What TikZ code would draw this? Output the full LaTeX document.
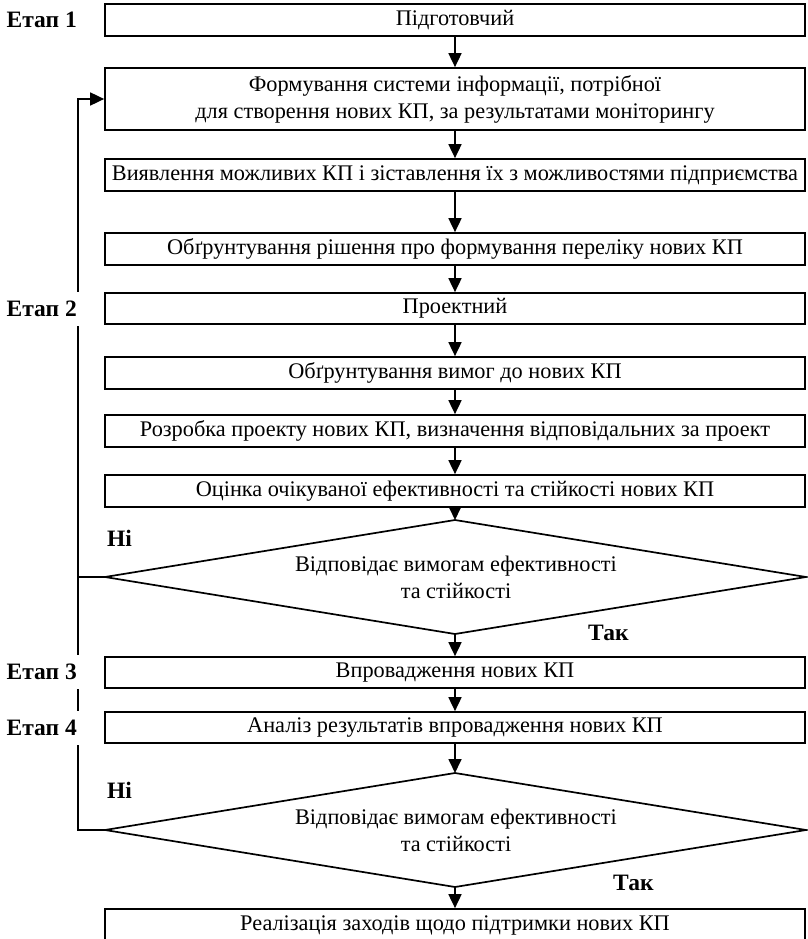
\documentclass[tikz,border=0pt]{standalone}
\usepackage{fontspec}
\setmainfont{Liberation Serif}
\usetikzlibrary{arrows.meta}
\begin{document}
\begin{tikzpicture}[x=1pt,y=-1pt,
  txt/.style={font=\fontsize{22.3}{27}\selectfont},
  box/.style={txt,draw,line width=1.7pt,minimum width=700pt,minimum height=32pt,inner sep=0pt,align=center},
  lbl/.style={font=\fontsize{23.5}{27}\selectfont\bfseries,inner sep=0pt},
  etap/.style={lbl,fill=white,anchor=east,inner ysep=9pt,inner xsep=4pt},
  conn/.style={line width=1.7pt},
  arr/.style={conn,-{Triangle[length=14pt,width=13pt]}},
  dia/.style={line width=1.7pt,line join=miter}
]
\useasboundingbox (0,0) rectangle (807,939);

% boxes
\node[box] (b1) at (455,20) {Підготовчий};
\node[box,minimum height=62pt] (b2) at (455,99) {Формування системи інформації, потрібної\\для створення нових КП, за результатами моніторингу};
\node[box] (b3) at (455,175) {Виявлення можливих КП і зіставлення їх з можливостями підприємства};
\node[box] (b4) at (455,249) {Обґрунтування рішення про формування переліку нових КП};
\node[box,minimum height=31pt] (b5) at (455,308.5) {Проектний};
\node[box] (b6) at (455,373) {Обґрунтування вимог до нових КП};
\node[box] (b7) at (455,431) {Розробка проекту нових КП, визначення відповідальних за проект};
\node[box] (b8) at (455,491) {Оцінка очікуваної ефективності та стійкості нових КП};
\node[box,minimum height=31pt] (b9) at (455,672.5) {Впровадження нових КП};
\node[box,minimum height=31pt] (b10) at (455,727.5) {Аналіз результатів впровадження нових КП};
\node[box] (b11) at (455,925) {Реалізація заходів щодо підтримки нових КП};

% decision 1
\coordinate (d1l) at (105,577);
\coordinate (d1t) at (455,520);
\coordinate (d1r) at (806,577);
\coordinate (d1b) at (455,634);
\draw[dia] (d1l) -- (d1t) -- (d1r) -- (d1b) -- cycle;
\node[txt,align=center,inner sep=0pt] (d1) at (456,577) {Відповідає вимогам ефективності\\та стійкості};

% decision 2
\coordinate (d2l) at (105,830);
\coordinate (d2t) at (455,773);
\coordinate (d2r) at (806,830);
\coordinate (d2b) at (455,887);
\draw[dia] (d2l) -- (d2t) -- (d2r) -- (d2b) -- cycle;
\node[txt,align=center,inner sep=0pt] (d2) at (456,830) {Відповідає вимогам ефективності\\та стійкості};

% feedback lines (drawn before labels so labels cut them)
\coordinate (fb1) at (78,577);
\coordinate (fb2) at (78,830);
\draw[conn] (d2l) -- (fb2) -- (fb1);
\draw[arr] (d1l) -- (fb1) |- (b2.west);

% main arrows
\draw[arr] (b1) -- (b2);
\draw[arr] (b2) -- (b3);
\draw[arr] (b3) -- (b4);
\draw[arr] (b4) -- (b5);
\draw[arr] (b5) -- (b6);
\draw[arr] (b6) -- (b7);
\draw[arr] (b7) -- (b8);
\draw[arr] (b8.south) -- (d1t);
\draw[arr] (d1b) -- (b9.north);
\draw[arr] (b9) -- (b10);
\draw[arr] (b10.south) -- (d2t);
\draw[arr] (d2b) -- (b11.north);

% stage labels
\node[etap] (e1) at (81,20) {Етап 1};
\node[etap] (e2) at (81,309) {Етап 2};
\node[etap] (e3) at (81,672) {Етап 3};
\node[etap] (e4) at (81,728) {Етап 4};

% yes/no labels
\node[lbl,anchor=west] (n1) at (107,538) {Ні};
\node[lbl,anchor=west] (n2) at (107,790) {Ні};
\node[lbl,anchor=west] (y1) at (588,633) {Так};
\node[lbl,anchor=west] (y2) at (613,883) {Так};
\end{tikzpicture}
\end{document}
